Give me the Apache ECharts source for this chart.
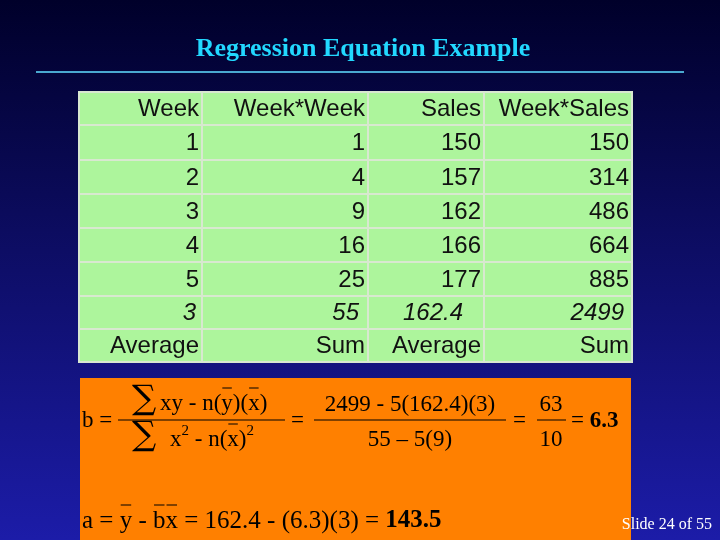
<!DOCTYPE html>
<html lang="en">
<head>
    <meta charset="UTF-8">
    <title>Regression Equation Example</title>
    <script src="https://cdn.jsdelivr.net/npm/echarts@6/dist/echarts.min.js"></script>
    <style>
        body { margin: 0; }
        #chart { width: 720px; height: 540px; }
    </style>
</head>
<body>
    <div id="chart"></div>
    <script>
        // table data
        var headers = ['Week', 'Week*Week', 'Sales', 'Week*Sales'];
        var weeks = [1, 2, 3, 4, 5];
        var weekSq = [1, 4, 9, 16, 25];
        var sales = [150, 157, 162, 166, 177];
        var weekSales = [150, 314, 486, 664, 885];
        var totals = ['3', '55', '162.4', '2499'];
        var totalLabels = ['Average', 'Sum', 'Average', 'Sum'];

        var colX = [79, 202, 368, 484, 632];
        var rowY = [92, 125, 160, 194, 228, 262, 296, 329, 362];
        var totalsPad = [6, 9, 21, 8];

        var chart = echarts.init(document.getElementById('chart'));
        var g = [];
        var ctx = document.createElement('canvas').getContext('2d');

        // background + title
        g.push({ type: 'rect', shape: { x: 0, y: 0, width: 720, height: 540 }, silent: true,
            style: { fill: new echarts.graphic.LinearGradient(0, 0, 0, 1, [
                { offset: 0, color: '#00002a' }, { offset: 1, color: '#1c1ca8' }]) } });
        g.push({ type: 'text', x: 363, y: 49, style: { text: 'Regression Equation Example',
            font: 'bold 26px "Liberation Serif", serif', fill: '#22d8ff', align: 'center', verticalAlign: 'middle' } });
        g.push({ type: 'line', shape: { x1: 36, y1: 72, x2: 684, y2: 72 }, style: { stroke: '#4aa8d0', lineWidth: 2 } });

        // table
        var rows = [headers];
        weeks.forEach(function (w, i) { rows.push([w, weekSq[i], sales[i], weekSales[i]]); });
        rows.push(totals);
        rows.push(totalLabels);
        rows.forEach(function (r, ri) {
            r.forEach(function (v, ci) {
                var x0 = colX[ci], x1 = colX[ci + 1], y0 = rowY[ri], y1 = rowY[ri + 1];
                g.push({ type: 'rect', shape: { x: x0, y: y0, width: x1 - x0, height: y1 - y0 },
                    style: { fill: '#adf59c', stroke: '#d8e8d0', lineWidth: 2 } });
                var italic = ri === 6;
                g.push({ type: 'text', x: x1 - (italic ? totalsPad[ci] : 3), y: (y0 + y1) / 2 + 1,
                    style: { text: String(v), font: (italic ? 'italic ' : '') + '24px "Liberation Sans", Arial, sans-serif',
                        fill: '#111', align: 'right', verticalAlign: 'middle' } });
            });
        });

        // orange formula box
        g.push({ type: 'rect', shape: { x: 80, y: 378, width: 551, height: 162 }, style: { fill: '#ff8000' } });
        var F = '23px "Liberation Serif", serif';
        var FB = 'bold 23px "Liberation Serif", serif';
        var F2 = '25px "Liberation Serif", serif';
        var FB2 = 'bold 25px "Liberation Serif", serif';
        var SUP = '15px "Liberation Serif", serif';
        function bar(x1, x2, y) { g.push({ type: 'line', shape: { x1: x1, y1: y, x2: x2, y2: y }, style: { stroke: '#000', lineWidth: 1 } }); }
        // pieces: [text, font, overbar?, dy]
        function seq(pieces, x, y, align) {
            var widths = pieces.map(function (p) { ctx.font = p[1] || F; return ctx.measureText(p[0]).width; });
            var total = widths.reduce(function (a, b) { return a + b; }, 0);
            if (align === 'center') x -= total / 2;
            pieces.forEach(function (p, i) {
                g.push({ type: 'text', x: x, y: y + (p[3] || 0), style: { text: p[0], font: p[1] || F, fill: '#000',
                    align: 'left', verticalAlign: 'middle' } });
                if (p[2]) bar(x + 1, x + widths[i] - 1, y - 16);
                x += widths[i];
            });
        }
        var SIG = '34px "DejaVu Serif", serif';
        seq([['b =']], 82, 421);
        seq([['\u2211', SIG]], 132, 400);
        seq([['xy - n('], ['y', F, 1], [')('], ['x', F, 1], [')']], 160, 404);
        bar(118, 285, 420);
        seq([['\u2211', SIG]], 132, 436);
        seq([['x'], ['2', SUP, 0, -9], [' - n('], ['x', F, 1], [')'], ['2', SUP, 0, -9]], 170, 440);
        seq([['=']], 291, 421);
        seq([['2499 - 5(162.4)(3)']], 410, 405, 'center');
        bar(314, 506, 420);
        seq([['55 \u2013 5(9)']], 410, 440, 'center');
        seq([['=']], 513, 421);
        seq([['63']], 551, 405, 'center');
        bar(537, 566, 420);
        seq([['10']], 551, 440, 'center');
        seq([['= '], ['6.3', FB]], 571, 421);

        seq([['a = ', F2], ['y', F2, 1], [' - ', F2], ['b', F2, 1], ['x', F2, 1],
             [' = 162.4 - (6.3)(3) = ', F2], ['143.5', FB2]], 82, 521);

        g.push({ type: 'text', x: 712, y: 525, style: { text: 'Slide 24 of 55',
            font: '16px "Liberation Serif", serif', fill: '#fff', align: 'right', verticalAlign: 'middle' } });

        chart.setOption({ animation: false, graphic: { elements: g } });
    </script>
</body>
</html>
